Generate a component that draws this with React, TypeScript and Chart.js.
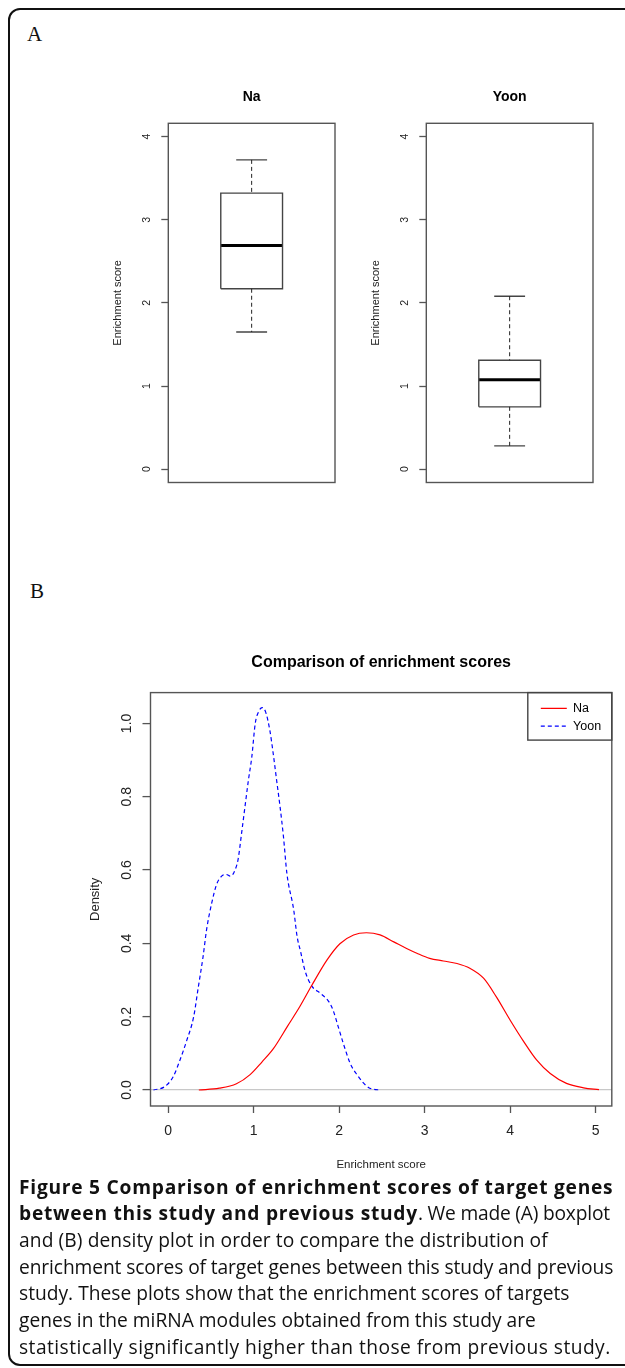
import React, { useEffect, useRef } from "react";
import { Chart, registerables } from "chart.js";

Chart.register(...registerables);

const SANS = "'Liberation Sans', Arial, Helvetica, sans-serif";

// ---------------- Data ----------------
const BOX_TITLES = ["Na", "Yoon"];
// five-number summaries: [lower whisker, Q1, median, Q3, upper whisker]
const NA_STATS = [1.65, 2.17, 2.69, 3.32, 3.72];
const YOON_STATS = [0.28, 0.75, 1.075, 1.31, 2.08];
const BOX_Y_TICKS = [0, 1, 2, 3, 4];
const BOX_Y_LABEL = "Enrichment score";

const DENS_SERIES = ["Na", "Yoon"];
const NA_DENS_X = [0.36, 0.6, 0.8, 0.96, 1.1, 1.23, 1.4, 1.54, 1.68, 1.86, 2.01, 2.17, 2.32, 2.48, 2.64, 2.79, 2.91, 3.06, 3.22, 3.38, 3.53, 3.69, 3.84, 4.0, 4.16, 4.31, 4.47, 4.66, 4.86, 5.04];
const NA_DENS_Y = [0, 0.005, 0.017, 0.042, 0.077, 0.112, 0.175, 0.227, 0.285, 0.355, 0.399, 0.423, 0.429, 0.423, 0.404, 0.386, 0.373, 0.359, 0.352, 0.345, 0.332, 0.305, 0.254, 0.191, 0.132, 0.082, 0.045, 0.018, 0.006, 0.001];
const YOON_DENS_X = [-0.17, -0.04, 0.06, 0.14, 0.22, 0.3, 0.355, 0.41, 0.45, 0.51, 0.57, 0.63, 0.68, 0.73, 0.78, 0.82, 0.86, 0.9, 0.94, 0.98, 1.02, 1.06, 1.1, 1.14, 1.19, 1.23, 1.27, 1.31, 1.35, 1.39, 1.47, 1.51, 1.55, 1.6, 1.68, 1.78, 1.88, 1.93, 1.99, 2.05, 2.13, 2.2, 2.36, 2.49];
const YOON_DENS_Y = [0, 0.009, 0.036, 0.082, 0.136, 0.2, 0.282, 0.364, 0.436, 0.509, 0.562, 0.584, 0.588, 0.583, 0.598, 0.63, 0.7, 0.773, 0.845, 0.909, 1.0, 1.032, 1.043, 1.032, 0.982, 0.918, 0.845, 0.773, 0.691, 0.591, 0.491, 0.418, 0.378, 0.327, 0.284, 0.264, 0.241, 0.218, 0.173, 0.127, 0.073, 0.045, 0.005, 0];
const DENS_X_TICKS = [0, 1, 2, 3, 4, 5];
const DENS_Y_TICKS = [0, 0.2, 0.4, 0.6, 0.8, 1.0];
const DENS_TITLE = "Comparison of enrichment scores";
const DENS_X_LABEL = "Enrichment score";
const DENS_Y_LABEL = "Density";

// ---------------- Plugins ----------------
const framePlugin = {
  id: "frame",
  afterDatasetsDraw(chart: any) {
    const { ctx, chartArea: a } = chart;
    ctx.save();
    ctx.strokeStyle = "#555";
    ctx.lineWidth = 1.4;
    ctx.strokeRect(a.left, a.top, a.right - a.left, a.bottom - a.top);
    ctx.restore();
  },
};

const legendBoxPlugin = {
  id: "legendBox",
  afterLayout(chart: any) {
    const lg = chart.legend;
    const a = chart.chartArea;
    if (!lg) return;
    const pad = lg.options.labels.padding;
    lg.left = a.right - 71 - pad;
    lg.right = a.right;
    lg.top = a.top + 4.3;
    lg.bottom = a.bottom;
  },
  afterDraw(chart: any) {
    const { ctx, chartArea: a } = chart;
    ctx.save();
    ctx.strokeStyle = "#444";
    ctx.lineWidth = 1.4;
    ctx.strokeRect(a.right - 84, a.top, 84, 47.5);
    ctx.restore();
  },
};

// ---------------- Box plot panel ----------------
function BoxPanel({ title, stats, left }: { title: string; stats: number[]; left: number }) {
  const ref = useRef<HTMLCanvasElement>(null);
  useEffect(() => {
    if (!ref.current) return;
    const [lo, q1, med, q3, hi] = stats;
    const c = 1;
    const bw = 0.2;
    const cw = 0.1;
    const seg = (pts: number[][], color: string, width: number, dash: number[] = []) => ({
      data: pts.map(([x, y]) => ({ x, y })),
      borderColor: color,
      borderWidth: width,
      borderDash: dash,
      borderCapStyle: "butt",
      borderJoinStyle: "miter",
      pointRadius: 0,
      fill: false,
      tension: 0,
    });
    const chart = new Chart(ref.current, {
      type: "line",
      data: {
        datasets: [
          seg([[c, hi], [c, q3]], "#222", 1, [4, 3]),
          seg([[c, q1], [c, lo]], "#222", 1, [4, 3]),
          seg([[c - cw, hi], [c + cw, hi]], "#444", 1.4),
          seg([[c - cw, lo], [c + cw, lo]], "#444", 1.4),
          seg([[c - bw, q1], [c + bw, q1], [c + bw, q3], [c - bw, q3], [c - bw, q1]], "#444", 1.4),
          seg([[c - bw, med], [c + bw, med]], "#000", 3),
        ] as any,
      },
      options: {
        animation: false,
        responsive: false,
        maintainAspectRatio: false,
        events: [],
        layout: { padding: { top: 0, left: 0, right: 15, bottom: 20.5 } },
        plugins: {
          legend: { display: false },
          tooltip: { enabled: false },
          title: {
            display: true,
            text: title,
            fullSize: false,
            color: "#000",
            font: { family: SANS, size: 14, weight: "bold" },
            padding: { top: 9.1, bottom: 17.4 },
          },
        },
        scales: {
          x: { type: "linear", min: 0.46, max: 1.54, display: false },
          y: {
            type: "linear",
            min: -0.16,
            max: 4.16,
            afterBuildTicks: (s: any) => {
              s.ticks = BOX_Y_TICKS.map((v) => ({ value: v }));
            },
            afterFit: (s: any) => {
              s.width = 68.3;
            },
            ticks: {
              autoSkip: false,
              minRotation: 90,
              maxRotation: 90,
              crossAlign: "center",
              padding: 11.5,
              color: "#222",
              font: { family: SANS, size: 10.5 },
              callback: (v: any) => String(v),
            },
            grid: { drawOnChartArea: false, drawTicks: true, tickLength: 7, tickColor: "#555", tickWidth: 1.3 },
            border: { display: false },
            title: {
              display: true,
              text: BOX_Y_LABEL,
              color: "#222",
              font: { family: SANS, size: 11 },
              padding: { top: 11.7, bottom: 0 },
            },
          },
        },
      } as any,
      plugins: [framePlugin],
    });
    return () => chart.destroy();
  }, [title, stats]);
  return (
    <canvas
      ref={ref}
      width={250}
      height={423}
      style={{ position: "absolute", left, top: 80, width: 250, height: 423 }}
    />
  );
}

// ---------------- Density panel ----------------
function DensityPanel() {
  const ref = useRef<HTMLCanvasElement>(null);
  useEffect(() => {
    if (!ref.current) return;
    const chart = new Chart(ref.current, {
      type: "line",
      data: {
        datasets: [
          {
            label: DENS_SERIES[0],
            data: NA_DENS_X.map((x, i) => ({ x, y: NA_DENS_Y[i] })),
            borderColor: "#ff0000",
            borderWidth: 1.2,
            pointRadius: 0,
            fill: false,
            cubicInterpolationMode: "monotone",
          },
          {
            label: DENS_SERIES[1],
            data: YOON_DENS_X.map((x, i) => ({ x, y: YOON_DENS_Y[i] })),
            borderColor: "#0000ff",
            borderWidth: 1.2,
            borderDash: [4, 3],
            pointRadius: 0,
            fill: false,
            cubicInterpolationMode: "monotone",
          },
        ] as any,
      },
      options: {
        animation: false,
        responsive: false,
        maintainAspectRatio: false,
        events: [],
        layout: { padding: { top: 0, left: 0, right: 13.2, bottom: 0 } },
        plugins: {
          tooltip: { enabled: false },
          title: {
            display: true,
            text: DENS_TITLE,
            fullSize: false,
            color: "#000",
            font: { family: SANS, size: 16, weight: "bold" },
            padding: { top: 13, bottom: 20.4 },
          },
          legend: {
            display: true,
            position: "chartArea",
            align: "start",
            labels: {
              usePointStyle: true,
              pointStyle: "line",
              pointStyleWidth: 26,
              boxHeight: 12.5,
              padding: 5.2,
              color: "#000",
              font: { family: SANS, size: 12.5 },
              generateLabels: (ch: any) => {
                const base = (Chart.defaults.plugins.legend.labels as any).generateLabels(ch);
                return base.map((it: any) => {
                  const ds: any = ch.data.datasets[it.datasetIndex];
                  return {
                    ...it,
                    lineDash: ds.borderDash || [],
                    lineWidth: ds.borderWidth,
                    strokeStyle: ds.borderColor,
                    fillStyle: ds.borderColor,
                    pointStyle: "line",
                  };
                });
              },
            },
          },
        },
        scales: {
          x: {
            type: "linear",
            min: -0.205,
            max: 5.19,
            afterBuildTicks: (s: any) => {
              s.ticks = DENS_X_TICKS.map((v) => ({ value: v }));
            },
            afterFit: (s: any) => {
              s.height = 79;
            },
            ticks: {
              autoSkip: false,
              maxRotation: 0,
              padding: 9.5,
              color: "#222",
              font: { family: SANS, size: 14 },
              callback: (v: any) => String(v),
            },
            grid: { drawOnChartArea: false, drawTicks: true, tickLength: 7, tickColor: "#555", tickWidth: 1.3 },
            border: { display: false },
            title: {
              display: true,
              text: DENS_X_LABEL,
              color: "#222",
              font: { family: SANS, size: 11.5 },
              padding: { top: 0, bottom: 13.1 },
            },
          },
          y: {
            type: "linear",
            min: -0.0436,
            max: 1.084,
            afterBuildTicks: (s: any) => {
              s.ticks = DENS_Y_TICKS.map((v) => ({ value: v }));
            },
            afterFit: (s: any) => {
              s.width = 70.5;
            },
            ticks: {
              autoSkip: false,
              minRotation: 90,
              maxRotation: 90,
              crossAlign: "center",
              padding: 5.75,
              color: "#222",
              font: { family: SANS, size: 14 },
              callback: (v: any) => Number(v).toFixed(1),
            },
            grid: {
              drawOnChartArea: true,
              drawTicks: true,
              tickLength: 8,
              tickColor: "#555",
              tickWidth: 1.3,
              lineWidth: 1.2,
              color: (ctx: any) => (ctx.tick && ctx.tick.value === 0 ? "#c8c8c8" : "rgba(0,0,0,0)"),
            },
            border: { display: false },
            title: {
              display: true,
              text: DENS_Y_LABEL,
              color: "#222",
              font: { family: SANS, size: 13 },
              padding: { top: 7.5, bottom: 0 },
            },
          },
        },
      } as any,
      plugins: [framePlugin, legendBoxPlugin],
    });
    return () => chart.destroy();
  }, []);
  return (
    <canvas
      ref={ref}
      width={545}
      height={545}
      style={{ position: "absolute", left: 80, top: 640, width: 545, height: 545 }}
    />
  );
}

const CAPTION_LINES = [
  "and (B) density plot in order to compare the distribution of",
  "enrichment scores of target genes between this study and previous",
  "study. These plots show that the enrichment scores of targets",
  "genes in the miRNA modules obtained from this study are",
  "statistically significantly higher than those from previous study.",
];
const CAPTION_SPACING = ["0.1px", "-0.1px", "0px", "0px", "0.45px"];

export default function App() {
  const lineStyle: React.CSSProperties = { whiteSpace: "nowrap", height: 26.7 };
  const boldStyle: React.CSSProperties = { fontWeight: 700, letterSpacing: "0.75px" };
  return (
    <div
      style={{
        position: "absolute",
        left: 0,
        top: 0,
        width: 625,
        height: 1368,
        overflow: "hidden",
        background: "#fff",
      }}
    >
      <div
        style={{
          position: "absolute",
          left: 8,
          top: 8,
          width: 700,
          height: 1358,
          border: "2px solid #111",
          borderRadius: 12,
          boxSizing: "border-box",
        }}
      />
      <div
        style={{
          position: "absolute",
          left: 27,
          top: 24,
          fontFamily: "'Liberation Serif', 'Times New Roman', serif",
          fontSize: 21,
          lineHeight: "21px",
          color: "#111",
        }}
      >
        A
      </div>
      <BoxPanel title={BOX_TITLES[0]} stats={NA_STATS} left={100} />
      <BoxPanel title={BOX_TITLES[1]} stats={YOON_STATS} left={358} />
      <div
        style={{
          position: "absolute",
          left: 30,
          top: 581,
          fontFamily: "'Liberation Serif', 'Times New Roman', serif",
          fontSize: 21,
          lineHeight: "21px",
          color: "#111",
        }}
      >
        B
      </div>
      <DensityPanel />
      <div
        style={{
          position: "absolute",
          left: 19,
          top: 1173.5,
          fontFamily: "'Open Sans', 'Noto Sans', sans-serif",
          fontSize: 19.2,
          lineHeight: "26.7px",
          color: "#111",
        }}
      >
        <div style={{ ...lineStyle, ...boldStyle }}>Figure 5 Comparison of enrichment scores of target genes</div>
        <div style={lineStyle}>
          <span style={boldStyle}>between this study and previous study</span>
          <span style={{ letterSpacing: "-0.2px" }}>. We made (A) boxplot</span>
        </div>
        {CAPTION_LINES.map((l, i) => (
          <div key={i} style={{ ...lineStyle, letterSpacing: CAPTION_SPACING[i] }}>
            {l}
          </div>
        ))}
      </div>
    </div>
  );
}
